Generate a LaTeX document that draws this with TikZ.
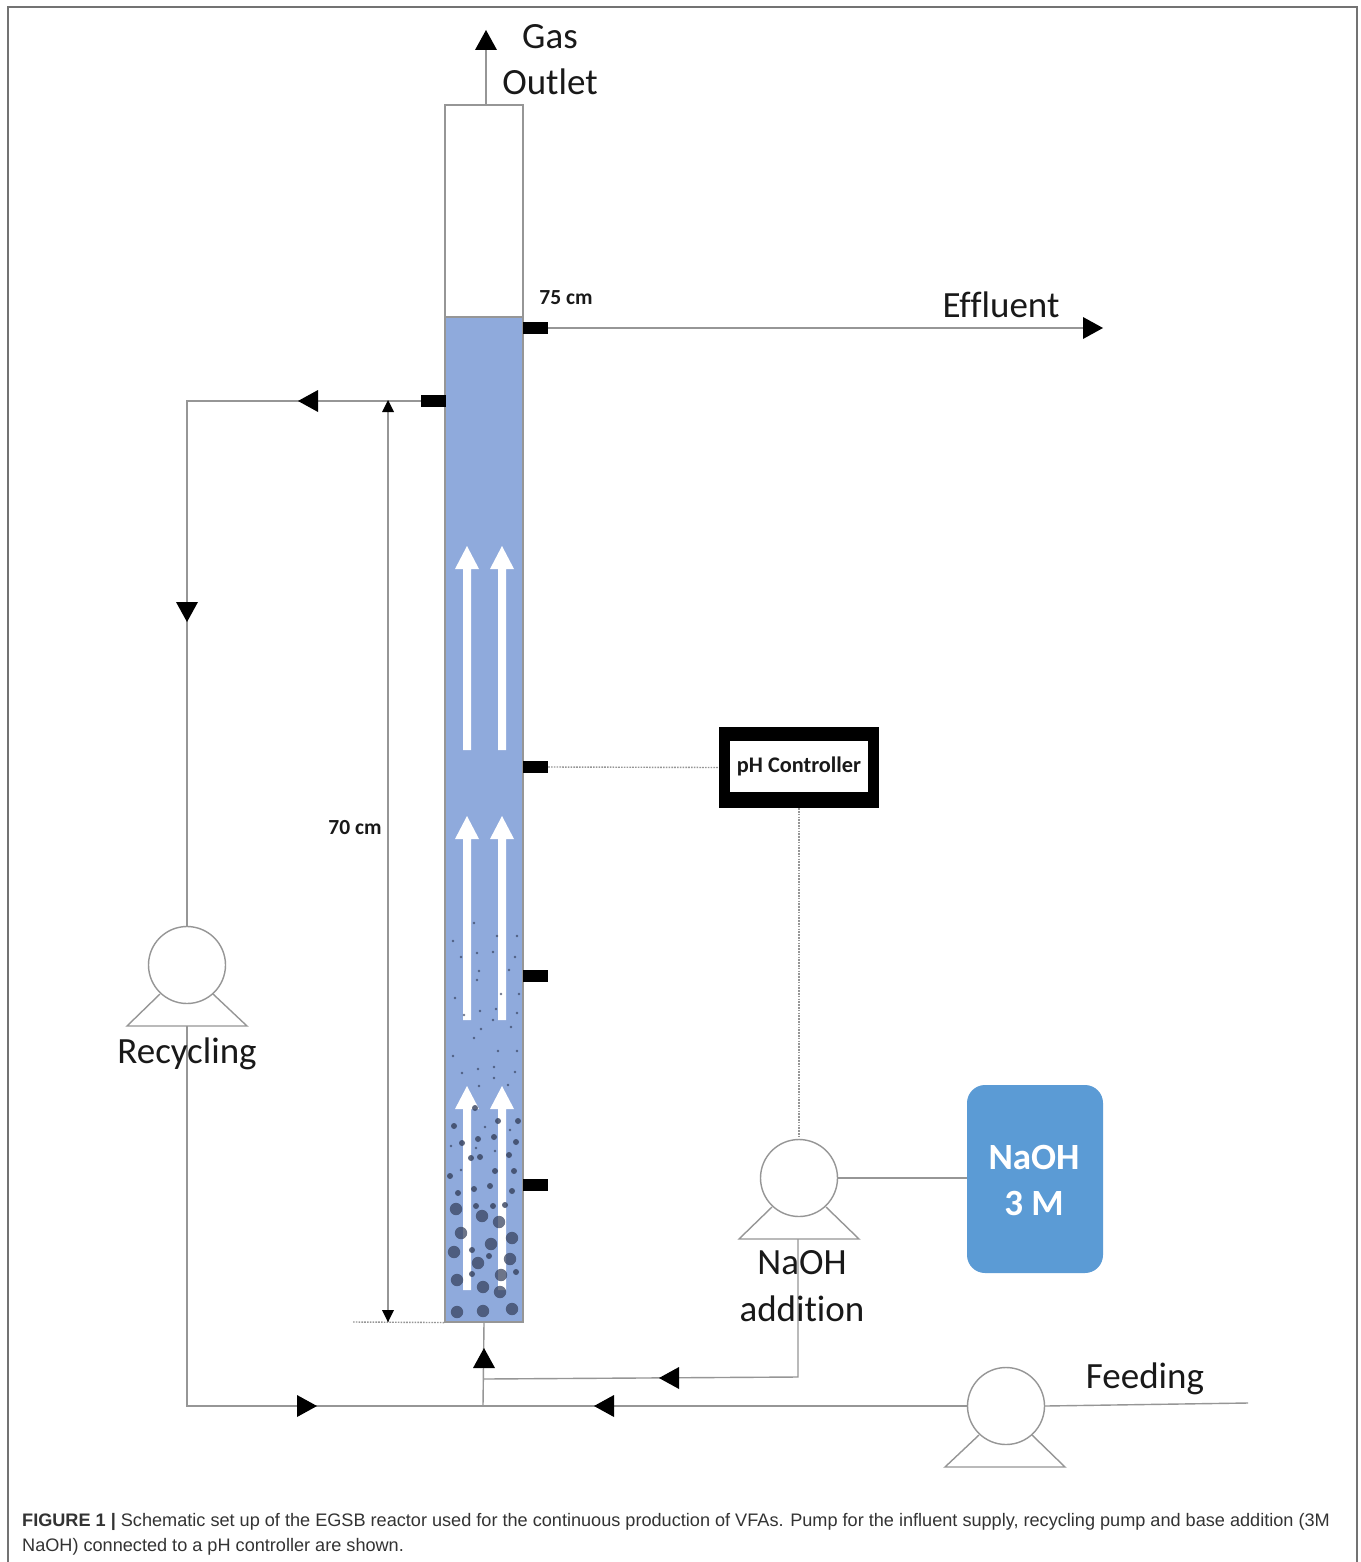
\documentclass[tikz,border=0pt]{standalone}
\usepackage{fontspec}
\setmainfont{Carlito}[Ligatures=NoCommon]
\newfontfamily\capfont{Liberation Sans}
\definecolor{pipe}{HTML}{969696}
\definecolor{liquid}{HTML}{8FAADC}
\definecolor{tank}{HTML}{5B9BD5}
\definecolor{grain}{HTML}{35405C}
\tikzset{
  pipeline/.style={draw=pipe,line width=1.4pt},
  signal/.style={draw=pipe,line width=1.4pt,dash pattern=on 1.6pt off 1.2pt},
  pumpbody/.style={circle,draw=pipe,fill=white,line width=1.4pt,minimum size=77pt,inner sep=0pt},
  column/.style={rectangle,draw=pipe,line width=1.1pt,minimum width=78pt,inner sep=0pt},
  portbox/.style={rectangle,fill=black,minimum width=25pt,minimum height=12.5pt,inner sep=0pt},
  lbl/.style={font=\fontsize{37}{37}\selectfont,text=black!90,inner sep=0pt},
  smalllbl/.style={font=\fontsize{21.5}{22}\selectfont\bfseries,text=black!90,inner sep=0pt},
  flowtri/.pic={\fill[black] (10,0)--(-10,11)--(-10,-11)--cycle;},
  dimtri/.pic={\fill[black] (6,0)--(-6,6)--(-6,-6)--cycle;},
  uparrow/.pic={\fill[white] (0,0)--(12,23)--(4,23)--(4,204)--(-4,204)--(-4,23)--(-12,23)--cycle;}
}
\begin{document}
\begin{tikzpicture}[x=1pt,y=-1pt]
\useasboundingbox (0,0) rectangle (1360,1562);
\fill[white] (0,0) rectangle (1360,1562);
\draw[draw=black!55,line width=1.4pt] (8,1562)--(8,7)--(1357,7)--(1357,1562);

% reactor
\node[column,fill=white,minimum height=212pt] (head) at (484,211) {};
\node[column,fill=liquid,minimum height=1005pt] (bed) at (484,819.5) {};

% white flow arrows
\foreach \ax in {467,502}
  \foreach \ay in {546,816,1086}
    \pic at (\ax,\ay) {uparrow};

% fine particles
\foreach \px/\py in {474/923,453/941,497/936,517/936,477/953,493/952,461/957,515/957,479/971,477/980,509/970,455/998,519/994,501/994,480/1011,496/1009,517/1013,464/1015,493/1020,481/1029,511/1027,474/1038,453/1056,498/1051,517/1051,478/1069,462/1073,494/1067,515/1072,494/1078,479/1086,508/1085,485/1127,510/1130,451/1146,476/1148,495/1151,461/1170}
  \fill[grain,opacity=.7] (\px,\py) circle (1.4);
% medium grains
\foreach \px/\py in {475/1108,498/1121,518/1121,454/1126,494/1137,478/1139,462/1143,516/1142,471/1158,480/1157,509/1155,495/1171,514/1171,450/1176,474/1189,490/1186,458/1193,512/1191,476/1206,493/1206,505/1205,472/1250,489/1256,516/1272,472/1274}
  \fill[grain,opacity=.8] (\px,\py) circle (3);
% large grains
\foreach \px/\py in {456/1209,482/1216,499/1222,461/1233,512/1238,491/1244,454/1252,478/1263,510/1259,501/1275,457/1280,483/1287,500/1292,457/1312,483/1311,512/1309}
  \fill[grain,opacity=.72] (\px,\py) circle (6.2);

% ports
\node[portbox] (pTop) at (535.5,328) {};
\node[portbox] (pRec) at (433.5,401) {};
\node[portbox] (pPH) at (535.5,767) {};
\node[portbox] (pA) at (535.5,976) {};
\node[portbox] (pB) at (535.5,1185) {};

% equipment
\node[pumpbody] (recPump) at (187,965) {};
\node[pumpbody] (naPump) at (799,1178) {};
\node[pumpbody] (feedPump) at (1006,1406) {};
\node[fill=black,minimum width=160pt,minimum height=81pt,inner sep=0pt] (ph) at (799,767.5) {};
\node[fill=white,minimum width=138pt,minimum height=51pt,inner sep=0pt,font=\fontsize{22.3}{23}\selectfont\bfseries,text=black!90] (phText) at (799,766.5) {pH Controller};
\node[rectangle,rounded corners=18pt,fill=tank,minimum width=136pt,minimum height=188pt,inner sep=0pt] (naTank) at (1035,1179) {};

% free ends and junctions
\coordinate (gasEnd) at (486,40);
\coordinate (effEnd) at (1093,328);
\coordinate (recCorner) at (187,401);
\coordinate (recBase) at (187,1026);
\coordinate (recLow) at (187,1406);
\coordinate (jMain) at (483,1406);
\coordinate (jNa) at (484,1379);
\coordinate (naBase) at (798,1239);
\coordinate (naLow) at (798,1377);
\coordinate (feedEnd) at (1248,1403);

% pipes
\draw[pipeline] (486,105) -- (gasEnd);
\draw[pipeline] (pTop.east) -- (effEnd);
\draw[pipeline] (pRec.west) -- (recCorner) -- (recPump.north);
\draw[pipeline] (recBase) -- (recLow) -- (jMain);
\draw[pipeline] (feedPump.west) -- (jMain);
\draw[pipeline] (feedPump.east) -- (feedEnd);
\draw[pipeline] (jMain) -- (bed.south);
\draw[pipeline] (naBase) -- (naLow) -- (jNa);
\draw[pipeline] (naPump.east) -- (naPump.east -| naTank.west);
\draw[signal] (pPH.east) -- (ph.west);
\draw[signal] (ph.south) -- (naPump.north);

% pump feet
\draw[pipeline,line join=miter] (160,994) -- (127,1026) -- (247,1026) -- (213,994);
\draw[pipeline,line join=miter] (772,1207) -- (739,1239) -- (859,1239) -- (826,1207);
\draw[pipeline,line join=miter] (979,1435) -- (945,1467) -- (1065,1467) -- (1032,1435);

% dimension
\coordinate (dimTop) at (388,401);
\coordinate (dimBot) at (388,1322);
\coordinate (dimRef) at (353,1322);
\draw[pipeline] (dimTop) -- (dimBot);
\draw[signal] (dimRef) -- (bed.south west);
\pic[rotate=90] at (388,406) {dimtri};
\pic[rotate=270] at (388,1316) {dimtri};

% flow heads
\pic[rotate=90] at (486,40) {flowtri};
\pic at (1093,328) {flowtri};
\pic[rotate=180] at (308,401) {flowtri};
\pic[rotate=270] at (187,612) {flowtri};
\pic at (307,1406) {flowtri};
\pic[rotate=90] at (484,1358) {flowtri};
\pic[rotate=180] at (669,1378) {flowtri};
\pic[rotate=180] at (604,1406) {flowtri};

% labels
\node[lbl] (tGas) at (550,37) {Gas};
\node[lbl] (tOut) at (550,82) {Outlet};
\node[lbl] (tEff) at (1001,305) {Effluent};
\node[lbl] (tRec) at (187,1054) {Recycling};
\node[lbl] (tNa) at (802,1263) {NaOH};
\node[lbl] (tAdd) at (802,1309) {addition};
\node[lbl] (tFeed) at (1145,1379) {Feeding};
\node[smalllbl] (t75) at (566,298) {75 cm};
\node[smalllbl] (t70) at (355,828) {70 cm};
\node[lbl,text=white,font=\fontsize{37}{37}\selectfont\bfseries] (tTank1) at (1034,1157) {NaOH};
\node[lbl,text=white,font=\fontsize{37}{37}\selectfont\bfseries] (tTank2) at (1034,1203) {3 M};

% caption
\node[anchor=base west,inner sep=0pt,font=\capfont\fontsize{18.12}{18.12}\selectfont,text=black!80] (cap1) at (22,1526) {\textbf{FIGURE 1 |} Schematic set up of the EGSB reactor used for the continuous production of VFAs. Pump for the influent supply, recycling pump and base addition (3M};
\node[anchor=base west,inner sep=0pt,font=\capfont\fontsize{18.12}{18.12}\selectfont,text=black!80] (cap2) at (22,1551) {NaOH) connected to a pH controller are shown.};
\end{tikzpicture}
\end{document}
